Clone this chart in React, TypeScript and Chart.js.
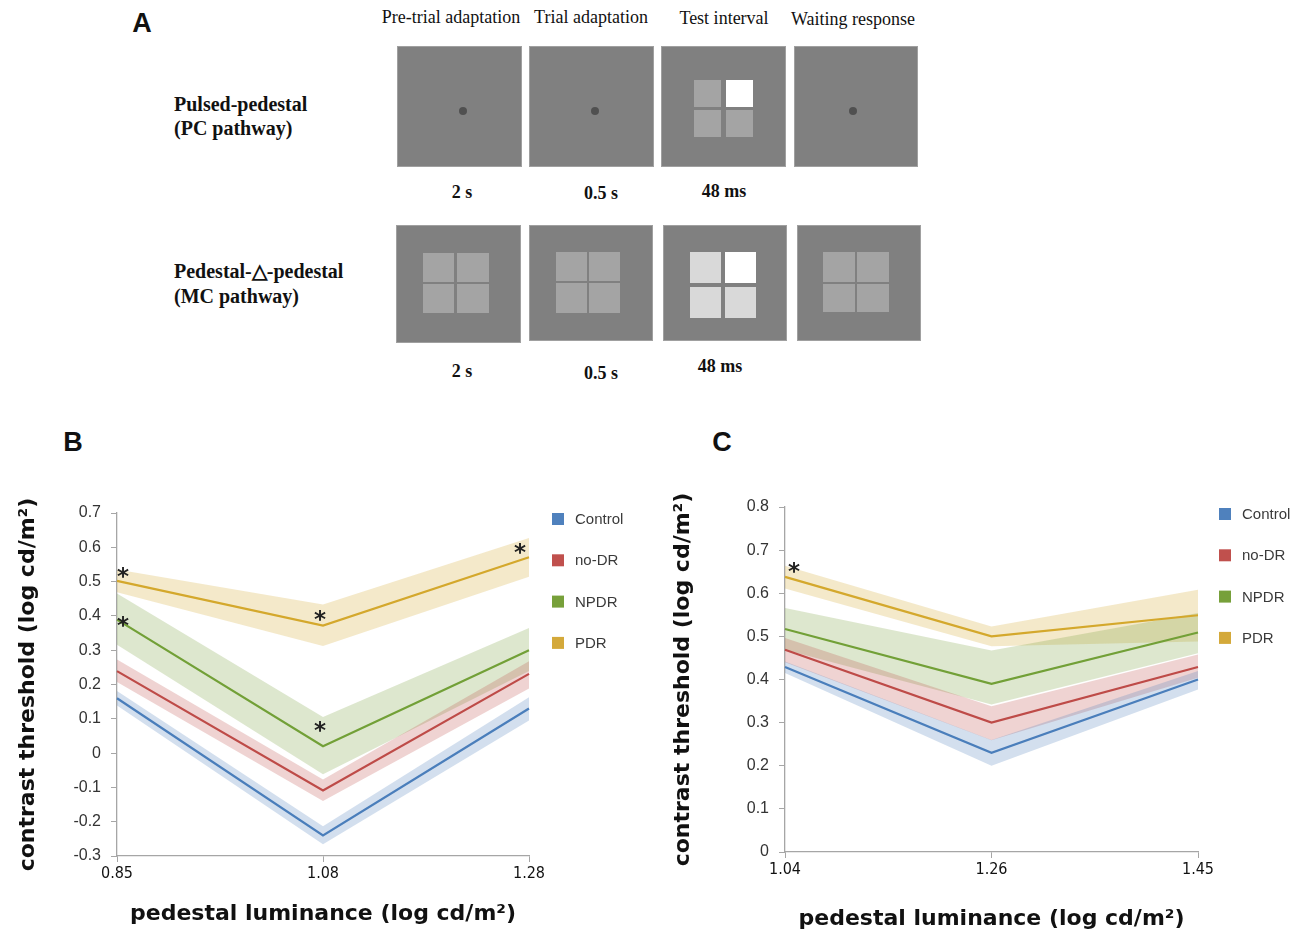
import React, { useEffect, useRef } from "react";
import { Chart, registerables } from "chart.js";
Chart.register(...registerables);

// ---------- data ----------
const seriesNames = ["Control", "no-DR", "NPDR", "PDR"];
const lineColors = ["#4a7ebb", "#be4b48", "#72a037", "#d4a82c"];
const legendColors = ["#4f81bd", "#c0504d", "#77a03a", "#d4a93a"];
const bandColors = [
  "rgba(79,129,189,0.25)",
  "rgba(192,80,77,0.25)",
  "rgba(119,160,58,0.25)",
  "rgba(212,168,44,0.25)",
];

// Panel B (PC pathway)
const pcLuminance = ["0.85", "1.08", "1.28"];
const pcControl = [0.16, -0.24, 0.13];
const pcControlHi = [0.181, -0.213, 0.163];
const pcControlLo = [0.139, -0.266, 0.095];
const pcNoDR = [0.239, -0.109, 0.231];
const pcNoDRHi = [0.273, -0.077, 0.268];
const pcNoDRLo = [0.207, -0.14, 0.188];
const pcNPDR = [0.389, 0.02, 0.3];
const pcNPDRHi = [0.465, 0.105, 0.365];
const pcNPDRLo = [0.316, -0.062, 0.239];
const pcPDR = [0.502, 0.372, 0.571];
const pcPDRHi = [0.535, 0.433, 0.627];
const pcPDRLo = [0.469, 0.312, 0.514];
const pcStarIndex = [0, 0, 1, 1, 2];
const pcStarValue = [0.532, 0.389, 0.407, 0.082, 0.6];
const pcYTicks = { min: -0.3, max: 0.7, step: 0.1 };

// Panel C (MC pathway)
const mcLuminance = ["1.04", "1.26", "1.45"];
const mcControl = [0.429, 0.23, 0.4];
const mcControlHi = [0.442, 0.26, 0.42];
const mcControlLo = [0.415, 0.2, 0.377];
const mcNoDR = [0.469, 0.3, 0.429];
const mcNoDRHi = [0.496, 0.338, 0.458];
const mcNoDRLo = [0.44, 0.259, 0.404];
const mcNPDR = [0.517, 0.39, 0.509];
const mcNPDRHi = [0.566, 0.467, 0.554];
const mcNPDRLo = [0.469, 0.342, 0.461];
const mcPDR = [0.638, 0.5, 0.549];
const mcPDRHi = [0.664, 0.523, 0.608];
const mcPDRLo = [0.611, 0.477, 0.488];
const mcStarIndex = [0];
const mcStarValue = [0.664];
const mcYTicks = { min: 0, max: 0.8, step: 0.1 };

const xTitle = "pedestal luminance (log cd/m²)";
const yTitle = "contrast threshold (log cd/m²)";

const axisGray = "#a6a6a6";
const narrowFont = "'Liberation Sans Narrow', 'DejaVu Sans Condensed', 'Liberation Sans', sans-serif";

type ChartParams = {
  labels: string[];
  lines: number[][];
  his: number[][];
  los: number[][];
  yRange: { min: number; max: number; step: number };
  starIndex: number[];
  starValue: number[];
  starShift: number[];
  yWidth: number;
  xHeight: number;
  padTop: number;
  padRight: number;
  yTitlePad: number;
  xTitlePad: number;
  legendDx: number;
  legendDy: number;
  legendGap: number;
};

function buildConfig(p: ChartParams): any {
  const datasets: any[] = [];
  p.lines.forEach((vals, i) => {
    datasets.push({
      label: seriesNames[i],
      data: vals,
      borderColor: lineColors[i],
      backgroundColor: lineColors[i],
      borderWidth: 2.2,
      pointRadius: 0,
      pointHoverRadius: 0,
      fill: false,
      tension: 0,
      order: 0,
      isMain: true,
      legendColor: legendColors[i],
    });
  });
  p.his.forEach((hi, i) => {
    datasets.push({
      label: seriesNames[i] + " upper",
      data: hi,
      borderWidth: 0,
      borderColor: "rgba(0,0,0,0)",
      pointRadius: 0,
      fill: false,
      order: 1,
    });
    datasets.push({
      label: seriesNames[i] + " lower",
      data: p.los[i],
      borderWidth: 0,
      borderColor: "rgba(0,0,0,0)",
      backgroundColor: bandColors[i],
      pointRadius: 0,
      fill: "-1",
      order: 1,
    });
  });

  const sideLegend = {
    id: "sideLegend",
    afterDraw(chart: any) {
      const ctx = chart.ctx;
      const area = chart.chartArea;
      ctx.save();
      let k = 0;
      chart.data.datasets.forEach((ds: any) => {
        if (!ds.isMain) return;
        const cy = area.top + p.legendDy + k * p.legendGap;
        const x0 = area.right + p.legendDx;
        ctx.fillStyle = ds.legendColor;
        ctx.fillRect(x0, cy - 6, 12, 12);
        ctx.fillStyle = "#3a3a3a";
        ctx.font = "15px 'Liberation Sans', Arial, sans-serif";
        ctx.textBaseline = "middle";
        ctx.textAlign = "left";
        ctx.fillText(ds.label, x0 + 23, cy + 1);
        k++;
      });
      ctx.restore();
    },
  };

  const stars = {
    id: "stars",
    afterDatasetsDraw(chart: any) {
      const ctx = chart.ctx;
      const xs = chart.scales.x;
      const ys = chart.scales.y;
      ctx.save();
      const fs = 23;
      ctx.font = `bold ${fs}px 'DejaVu Sans', sans-serif`;
      ctx.fillStyle = "#222";
      ctx.textAlign = "center";
      ctx.textBaseline = "alphabetic";
      p.starIndex.forEach((idx, j) => {
        const x = xs.getPixelForValue(idx) + p.starShift[idx];
        const y = ys.getPixelForValue(p.starValue[j]);
        ctx.fillText("*", x, y + fs * 0.57);
      });
      ctx.restore();
    },
  };

  return {
    type: "line",
    data: { labels: p.labels, datasets },
    plugins: [sideLegend, stars],
    options: {
      responsive: false,
      animation: false,
      devicePixelRatio: 1,
      events: [],
      layout: { padding: { left: 0, top: p.padTop, right: p.padRight, bottom: 0 } },
      plugins: {
        legend: { display: false },
        tooltip: { enabled: false },
        filler: { propagate: false },
      },
      scales: {
        x: {
          type: "category",
          offset: false,
          grid: { drawOnChartArea: false, drawTicks: true, tickLength: 6, color: axisGray, lineWidth: 1 },
          border: { color: axisGray, width: 1.3 },
          ticks: {
            color: "#111",
            font: { family: narrowFont, size: 16 },
            padding: 2,
            maxRotation: 0,
            autoSkip: false,
          },
          title: {
            display: true,
            text: xTitle,
            color: "#111",
            font: { family: "'DejaVu Sans', sans-serif", weight: "bold", size: 22 },
            padding: { top: 0, bottom: p.xTitlePad },
          },
          afterFit: (s: any) => {
            s.height = p.xHeight;
          },
        },
        y: {
          type: "linear",
          min: p.yRange.min,
          max: p.yRange.max,
          grid: { drawOnChartArea: false, drawTicks: true, tickLength: 6, color: axisGray, lineWidth: 1 },
          border: { color: axisGray, width: 1.3 },
          ticks: {
            stepSize: p.yRange.step,
            color: "#333",
            font: { family: "'Liberation Sans', Arial, sans-serif", size: 16 },
            padding: 10,
            callback: (v: any) => String(Math.round(Number(v) * 10) / 10),
          },
          title: {
            display: true,
            text: yTitle,
            color: "#111",
            font: { family: "'DejaVu Sans', sans-serif", weight: "bold", size: 22 },
            padding: { top: p.yTitlePad, bottom: 0 },
          },
          afterFit: (s: any) => {
            s.width = p.yWidth;
          },
        },
      },
    },
  };
}

function LineChart(props: { left: number; top: number; w: number; h: number; params: ChartParams }) {
  const ref = useRef<HTMLCanvasElement>(null);
  useEffect(() => {
    const chart = new Chart(ref.current as HTMLCanvasElement, buildConfig(props.params));
    return () => chart.destroy();
  }, []);
  return (
    <canvas
      ref={ref}
      width={props.w}
      height={props.h}
      style={{ position: "absolute", left: props.left, top: props.top, width: props.w, height: props.h }}
    />
  );
}

// ---------- panel A helpers ----------
function T(props: { cx?: number; left?: number; cy: number; size: number; bold?: boolean; children: any; family?: string }) {
  const lh = props.size * 1.3;
  const style: any = {
    position: "absolute",
    top: props.cy - lh / 2,
    lineHeight: `${lh}px`,
    fontSize: props.size,
    fontWeight: props.bold ? "bold" : "normal",
    fontFamily: props.family || "'Liberation Serif', 'Times New Roman', serif",
    color: "#111",
    whiteSpace: "nowrap",
  };
  if (props.cx !== undefined) {
    style.left = props.cx - 150;
    style.width = 300;
    style.textAlign = "center";
  } else {
    style.left = props.left;
  }
  return <div style={style}>{props.children}</div>;
}

function Box(props: { x1: number; y1: number; x2: number; y2: number }) {
  return (
    <div
      style={{
        position: "absolute",
        left: props.x1,
        top: props.y1,
        width: props.x2 - props.x1,
        height: props.y2 - props.y1,
        background: "#808080",
        border: "1px solid #a0a0a0",
        boxSizing: "border-box",
      }}
    />
  );
}

function Sq(props: { x1: number; y1: number; x2: number; y2: number; c: string }) {
  return (
    <div
      style={{
        position: "absolute",
        left: props.x1,
        top: props.y1,
        width: props.x2 - props.x1,
        height: props.y2 - props.y1,
        background: props.c,
      }}
    />
  );
}

function Dot(props: { cx: number; cy: number }) {
  return (
    <div
      style={{
        position: "absolute",
        left: props.cx - 4,
        top: props.cy - 4,
        width: 8,
        height: 8,
        borderRadius: 4,
        background: "#505050",
      }}
    />
  );
}

const pedestalGray = "#a4a4a4";
const brightGray = "#d9d9d9";

export default function App() {
  const paramsB: ChartParams = {
    labels: pcLuminance,
    lines: [pcControl, pcNoDR, pcNPDR, pcPDR],
    his: [pcControlHi, pcNoDRHi, pcNPDRHi, pcPDRHi],
    los: [pcControlLo, pcNoDRLo, pcNPDRLo, pcPDRLo],
    yRange: pcYTicks,
    starIndex: pcStarIndex,
    starValue: pcStarValue,
    starShift: [6, -3, -9],
    yWidth: 117,
    xHeight: 77,
    padTop: 43,
    padRight: 131,
    yTitlePad: 15,
    xTitlePad: 6,
    legendDx: 23,
    legendDy: 6,
    legendGap: 41.3,
  };
  const paramsC: ChartParams = {
    labels: mcLuminance,
    lines: [mcControl, mcNoDR, mcNPDR, mcPDR],
    his: [mcControlHi, mcNoDRHi, mcNPDRHi, mcPDRHi],
    los: [mcControlLo, mcNoDRLo, mcNPDRLo, mcPDRLo],
    yRange: mcYTicks,
    starIndex: mcStarIndex,
    starValue: mcStarValue,
    starShift: [9, 0, 0],
    yWidth: 130,
    xHeight: 81,
    padTop: 37,
    padRight: 106,
    yTitlePad: 15,
    xTitlePad: 1,
    legendDx: 21,
    legendDy: 7,
    legendGap: 41.3,
  };

  const panelLabel = "'Liberation Sans', Arial, sans-serif";

  return (
    <div
      style={{
        position: "absolute",
        left: 0,
        top: 0,
        width: 1304,
        height: 933,
        background: "#fff",
        overflow: "hidden",
      }}
    >
      {/* Panel A */}
      <T cx={142} cy={24} size={27} bold family={panelLabel}>A</T>
      <T cx={451} cy={18} size={18}>Pre-trial adaptation</T>
      <T cx={591} cy={18} size={18}>Trial adaptation</T>
      <T cx={724} cy={19} size={18}>Test interval</T>
      <T cx={853} cy={20} size={18}>Waiting response</T>

      <T left={174} cy={104} size={20} bold>Pulsed-pedestal</T>
      <T left={174} cy={128} size={20} bold>(PC pathway)</T>

      <Box x1={397} y1={46} x2={522} y2={167} />
      <Dot cx={463} cy={111} />
      <Box x1={529} y1={46} x2={654} y2={167} />
      <Dot cx={595} cy={111} />
      <Box x1={661} y1={46} x2={786} y2={167} />
      <Sq x1={694} y1={80} x2={721} y2={107} c={pedestalGray} />
      <Sq x1={726} y1={80} x2={753} y2={107} c="#ffffff" />
      <Sq x1={694} y1={110} x2={721} y2={137} c={pedestalGray} />
      <Sq x1={726} y1={110} x2={753} y2={137} c={pedestalGray} />
      <Box x1={794} y1={46} x2={918} y2={167} />
      <Dot cx={853} cy={111} />

      <T cx={462} cy={193} size={18} bold>2 s</T>
      <T cx={601} cy={194} size={18} bold>0.5 s</T>
      <T cx={724} cy={192} size={18} bold>48 ms</T>

      <T left={174} cy={271} size={20} bold>Pedestal-△-pedestal</T>
      <T left={174} cy={296} size={20} bold>(MC pathway)</T>

      <Box x1={396} y1={225} x2={521} y2={343} />
      <Sq x1={423} y1={253} x2={454} y2={282} c={pedestalGray} />
      <Sq x1={457} y1={253} x2={489} y2={282} c={pedestalGray} />
      <Sq x1={423} y1={284} x2={454} y2={313} c={pedestalGray} />
      <Sq x1={457} y1={284} x2={489} y2={313} c={pedestalGray} />
      <Box x1={529} y1={225} x2={653} y2={341} />
      <Sq x1={556} y1={252} x2={587} y2={281} c={pedestalGray} />
      <Sq x1={589} y1={252} x2={620} y2={281} c={pedestalGray} />
      <Sq x1={556} y1={283} x2={587} y2={313} c={pedestalGray} />
      <Sq x1={589} y1={283} x2={620} y2={313} c={pedestalGray} />
      <Box x1={663} y1={225} x2={787} y2={341} />
      <Sq x1={690} y1={252} x2={721} y2={283} c={brightGray} />
      <Sq x1={725} y1={252} x2={756} y2={283} c="#ffffff" />
      <Sq x1={690} y1={287} x2={721} y2={318} c={brightGray} />
      <Sq x1={725} y1={287} x2={756} y2={318} c={brightGray} />
      <Box x1={797} y1={225} x2={921} y2={341} />
      <Sq x1={823} y1={252} x2={855} y2={282} c={pedestalGray} />
      <Sq x1={857} y1={252} x2={889} y2={282} c={pedestalGray} />
      <Sq x1={823} y1={284} x2={855} y2={312} c={pedestalGray} />
      <Sq x1={857} y1={284} x2={889} y2={312} c={pedestalGray} />

      <T cx={462} cy={372} size={18} bold>2 s</T>
      <T cx={601} cy={374} size={18} bold>0.5 s</T>
      <T cx={720} cy={367} size={18} bold>48 ms</T>

      {/* Panel B */}
      <T cx={73} cy={443} size={27} bold family={panelLabel}>B</T>
      <LineChart left={0} top={470} w={660} h={463} params={paramsB} />

      {/* Panel C */}
      <T cx={722} cy={443} size={27} bold family={panelLabel}>C</T>
      <LineChart left={655} top={470} w={649} h={463} params={paramsC} />
    </div>
  );
}
